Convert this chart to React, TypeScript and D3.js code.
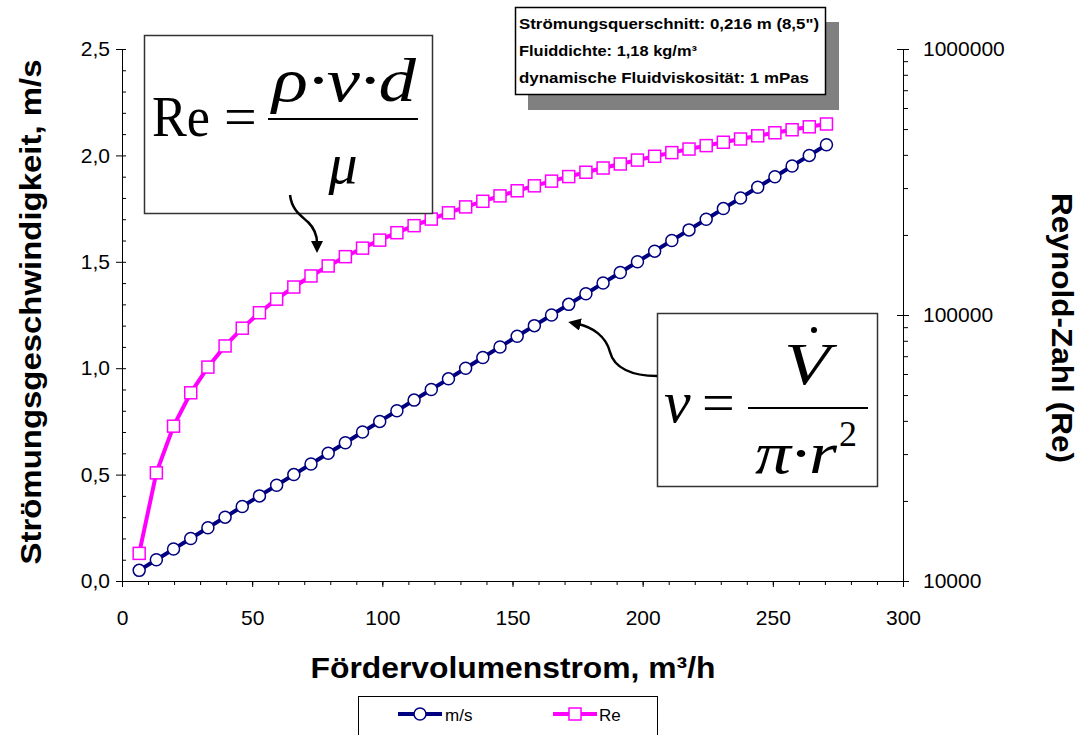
import React, { useEffect, useRef } from 'react';
import * as d3 from 'd3';

// Fördervolumenstrom (m³/h)
const flow = [
	6.6, 13.2, 19.8, 26.4, 33.0, 39.6, 46.2, 52.8, 59.4, 66.0, 72.6, 79.2, 85.8, 92.4,
	99.0, 105.6, 112.2, 118.8, 125.4, 132.0, 138.6, 145.2, 151.8, 158.4, 165.0, 171.6,
	178.2, 184.8, 191.4, 198.0, 204.6, 211.2, 217.8, 224.4, 231.0, 237.6, 244.2, 250.8,
	257.4, 264.0, 270.6
];
// Strömungsgeschwindigkeit (m/s)
const velocity = [
	0.05, 0.1, 0.15, 0.2, 0.25, 0.3, 0.35, 0.4, 0.45, 0.5, 0.55, 0.6, 0.65, 0.7, 0.75,
	0.8, 0.85, 0.9, 0.95, 1.0, 1.05, 1.1, 1.15, 1.2, 1.25, 1.3, 1.35, 1.4, 1.45, 1.5,
	1.55, 1.6, 1.65, 1.7, 1.75, 1.8, 1.85, 1.9, 1.95, 2.0, 2.05
];
// Reynolds-Zahl
const reynolds = [
	12700, 25500, 38200, 51000, 63700, 76500, 89200, 102000, 114700, 127400, 140200,
	152900, 165700, 178400, 191200, 203900, 216700, 229400, 242200, 254900, 267600,
	280400, 293100, 305900, 318600, 331400, 344100, 356900, 369600, 382300, 395100,
	407800, 420600, 433300, 446100, 458800, 471600, 484300, 497100, 509800, 522500
];
const xTicks = [0, 50, 100, 150, 200, 250, 300];
const yTicks = [0, 0.5, 1.0, 1.5, 2.0, 2.5];
const reTicks = [10000, 100000, 1000000];
const infoLines = [
	'Strömungsquerschnitt: 0,216 m (8,5")',
	'Fluiddichte: 1,18 kg/m³',
	'dynamische Fluidviskosität: 1 mPas'
];

const NAVY = '#000080';
const PINK = '#ff00ff';
const SANS = 'Liberation Sans, Arial, sans-serif';
const SERIF = 'Liberation Serif, Times New Roman, serif';

export default function App() {
	const ref = useRef<SVGSVGElement>(null);

	useEffect(() => {
		const width = 1085;
		const height = 735;
		const left = 122;
		const right = 903;
		const top = 49;
		const bottom = 581;

		const svg = d3.select(ref.current);
		svg.selectAll('*').remove();

		const x = d3.scaleLinear().domain([0, 300]).range([left, right]);
		const y = d3.scaleLinear().domain([0, 2.5]).range([bottom, top]);
		const yRe = d3.scaleLog().domain([10000, 1000000]).range([bottom, top]);

		const fmt = (d: number) => d.toFixed(1).replace('.', ',');

		// x axis: minor ticks
		const gx = svg.append('g').attr('transform', `translate(0, ${bottom})`);
		gx.call(d3.axisBottom(x).tickValues(d3.range(0, 301, 10)).tickSize(4).tickFormat(() => ''));
		gx.append('g').call(d3.axisBottom(x).tickValues(xTicks).tickSize(6).tickPadding(23).tickFormat(d3.format('d')));

		// left axis
		const gy = svg.append('g').attr('transform', `translate(${left}, 0)`);
		gy.call(d3.axisRight(y).tickValues(d3.range(0, 2.51, 0.1)).tickSize(4).tickFormat(() => ''));
		gy.append('g').call(d3.axisLeft(y).tickValues(yTicks).tickSize(6).tickPadding(6).tickFormat(d => fmt(+d)));

		// right axis (log)
		const minor: number[] = [];
		[10000, 100000].forEach(b => d3.range(2, 10).forEach(k => minor.push(b * k)));
		const gr = svg.append('g').attr('transform', `translate(${right}, 0)`);
		gr.call(d3.axisRight(yRe).tickValues(minor).tickSize(5).tickFormat(() => ''));
		gr.append('g').call(d3.axisRight(yRe).tickValues(reTicks).tickSize(6).tickPadding(14).tickFormat(d3.format('d')));
		gr.append('g').call(d3.axisLeft(yRe).tickValues(reTicks).tickSize(6).tickFormat(() => ''));

		svg.selectAll('.domain').attr('stroke', '#000');
		svg.selectAll('.tick line').attr('stroke', '#000');
		svg.selectAll('.tick text')
			.attr('font-family', SANS)
			.attr('font-size', 21)
			.attr('fill', '#000');

		// axis titles
		const title = (t: string, tr: string, len: number) =>
			svg.append('text')
				.attr('transform', tr)
				.attr('text-anchor', 'middle')
				.attr('font-family', SANS)
				.attr('font-weight', 'bold')
				.attr('font-size', 29)
				.attr('textLength', len)
				.attr('lengthAdjust', 'spacingAndGlyphs')
				.text(t);
		title('Fördervolumenstrom, m³/h', 'translate(513, 678)', 405);
		title('Strömungsgeschwindigkeit, m/s', 'translate(41, 312) rotate(-90)', 505);
		title('Reynold-Zahl (Re)', 'translate(1052, 328) rotate(90)', 270);

		// series
		const vData = flow.map((f, i) => ({ x: f, v: velocity[i] }));
		const rData = flow.map((f, i) => ({ x: f, v: reynolds[i] }));

		svg.append('path')
			.datum(rData)
			.attr('fill', 'none')
			.attr('stroke', PINK)
			.attr('stroke-width', 4)
			.attr('d', d3.line<{ x: number; v: number }>().x(d => x(d.x)).y(d => yRe(d.v)));
		svg.append('g')
			.selectAll('rect')
			.data(rData)
			.join('rect')
			.attr('x', d => x(d.x) - 6)
			.attr('y', d => yRe(d.v) - 6)
			.attr('width', 12)
			.attr('height', 12)
			.attr('fill', '#fff')
			.attr('stroke', PINK)
			.attr('stroke-width', 1.5);

		svg.append('path')
			.datum(vData)
			.attr('fill', 'none')
			.attr('stroke', NAVY)
			.attr('stroke-width', 4)
			.attr('d', d3.line<{ x: number; v: number }>().x(d => x(d.x)).y(d => y(d.v)));
		svg.append('g')
			.selectAll('circle')
			.data(vData)
			.join('circle')
			.attr('cx', d => x(d.x))
			.attr('cy', d => y(d.v))
			.attr('r', 6)
			.attr('fill', '#fff')
			.attr('stroke', NAVY)
			.attr('stroke-width', 1.5);

		// info box
		svg.append('rect').attr('x', 528).attr('y', 22).attr('width', 311).attr('height', 88).attr('fill', '#808080');
		svg.append('rect')
			.attr('x', 515.5).attr('y', 7.5).attr('width', 310).attr('height', 87)
			.attr('fill', '#fff').attr('stroke', '#000').attr('stroke-width', 1.5);
		const lens = [300, 178, 290];
		infoLines.forEach((t, i) => {
			svg.append('text')
				.attr('x', 519)
				.attr('y', 29 + i * 27)
				.attr('font-family', SANS)
				.attr('font-weight', 'bold')
				.attr('font-size', 15)
				.attr('textLength', lens[i])
				.attr('lengthAdjust', 'spacingAndGlyphs')
				.text(t);
		});

		// arrow marker
		const defs = svg.append('defs');
		defs.append('marker')
			.attr('id', 'arr')
			.attr('viewBox', '0 0 10 10')
			.attr('refX', 2)
			.attr('refY', 5)
			.attr('markerWidth', 5)
			.attr('markerHeight', 5)
			.attr('orient', 'auto')
			.append('path')
			.attr('d', 'M0,0 L10,5 L0,10 z')
			.attr('fill', '#000');

		// Re formula
		svg.append('rect')
			.attr('x', 144.5).attr('y', 35.5).attr('width', 288).attr('height', 178)
			.attr('fill', '#fff').attr('stroke', '#333').attr('stroke-width', 1.5);
		const re = svg.append('g').attr('font-family', SERIF).attr('fill', '#000');
		re.append('text').attr('x', 152).attr('y', 136).attr('font-size', 58)
			.attr('textLength', 58).attr('lengthAdjust', 'spacingAndGlyphs').text('Re');
		re.append('text').attr('x', 224).attr('y', 136).attr('font-size', 58).text('=');
		re.append('line').attr('x1', 268).attr('x2', 418).attr('y1', 119).attr('y2', 119).attr('stroke', '#000').attr('stroke-width', 2);
		re.append('text').attr('x', 272).attr('y', 101).attr('font-size', 62).attr('font-style', 'italic')
			.attr('textLength', 144).attr('lengthAdjust', 'spacingAndGlyphs').text('ρ·v·d');
		re.append('text').attr('x', 343).attr('y', 183).attr('text-anchor', 'middle').attr('font-size', 58).attr('font-style', 'italic').text('μ');
		svg.append('path')
			.attr('d', 'M290,195 C292,210 300,215 308,222 C315,229 317,236 317,243')
			.attr('fill', 'none')
			.attr('stroke', '#000')
			.attr('stroke-width', 2.5)
			.attr('marker-end', 'url(#arr)');

		// v formula
		svg.append('rect')
			.attr('x', 657.5).attr('y', 313.5).attr('width', 220).attr('height', 173)
			.attr('fill', '#fff').attr('stroke', '#333').attr('stroke-width', 1.5);
		const vf = svg.append('g').attr('font-family', SERIF).attr('fill', '#000');
		vf.append('text').attr('x', 664).attr('y', 422).attr('font-size', 60).attr('font-style', 'italic').text('v');
		vf.append('text').attr('x', 702).attr('y', 422).attr('font-size', 58).text('=');
		vf.append('line').attr('x1', 748).attr('x2', 868).attr('y1', 408).attr('y2', 408).attr('stroke', '#000').attr('stroke-width', 2);
		vf.append('text').attr('x', 784).attr('y', 384).attr('font-size', 60).attr('font-style', 'italic')
			.attr('textLength', 46).attr('lengthAdjust', 'spacingAndGlyphs').text('V');
		vf.append('circle').attr('cx', 814).attr('cy', 330).attr('r', 3);
		vf.append('text').attr('x', 755).attr('y', 473).attr('font-size', 60).attr('font-style', 'italic')
			.attr('textLength', 82).attr('lengthAdjust', 'spacingAndGlyphs').text('π·r');
		vf.append('text').attr('x', 839).attr('y', 446).attr('font-size', 36).text('2');
		svg.append('path')
			.attr('d', 'M657,376 C632,376 614,368 610,352 C606,336 592,327 578,324')
			.attr('fill', 'none')
			.attr('stroke', '#000')
			.attr('stroke-width', 2.5)
			.attr('marker-end', 'url(#arr)');

		// legend
		svg.append('rect')
			.attr('x', 358.5).attr('y', 696.5).attr('width', 299).attr('height', 50)
			.attr('fill', '#fff').attr('stroke', '#000').attr('stroke-width', 1);
		const lg = svg.append('g');
		lg.append('line').attr('x1', 398).attr('x2', 442).attr('y1', 714).attr('y2', 714).attr('stroke', NAVY).attr('stroke-width', 4);
		lg.append('circle').attr('cx', 420).attr('cy', 714).attr('r', 6).attr('fill', '#fff').attr('stroke', NAVY).attr('stroke-width', 1.5);
		lg.append('text').attr('x', 445).attr('y', 721).attr('font-family', SANS).attr('font-size', 17).text('m/s');
		lg.append('line').attr('x1', 553).attr('x2', 597).attr('y1', 714).attr('y2', 714).attr('stroke', PINK).attr('stroke-width', 4);
		lg.append('rect').attr('x', 569).attr('y', 708).attr('width', 12).attr('height', 12).attr('fill', '#fff').attr('stroke', PINK).attr('stroke-width', 1.5);
		lg.append('text').attr('x', 599).attr('y', 721).attr('font-family', SANS).attr('font-size', 17).text('Re');

		svg.attr('width', width).attr('height', height);
	}, []);

	return (
		<div style={{ position: 'absolute', left: 0, top: 0 }}>
			<svg ref={ref} width={1085} height={735} style={{ display: 'block', background: '#fff' }} />
		</div>
	);
}
